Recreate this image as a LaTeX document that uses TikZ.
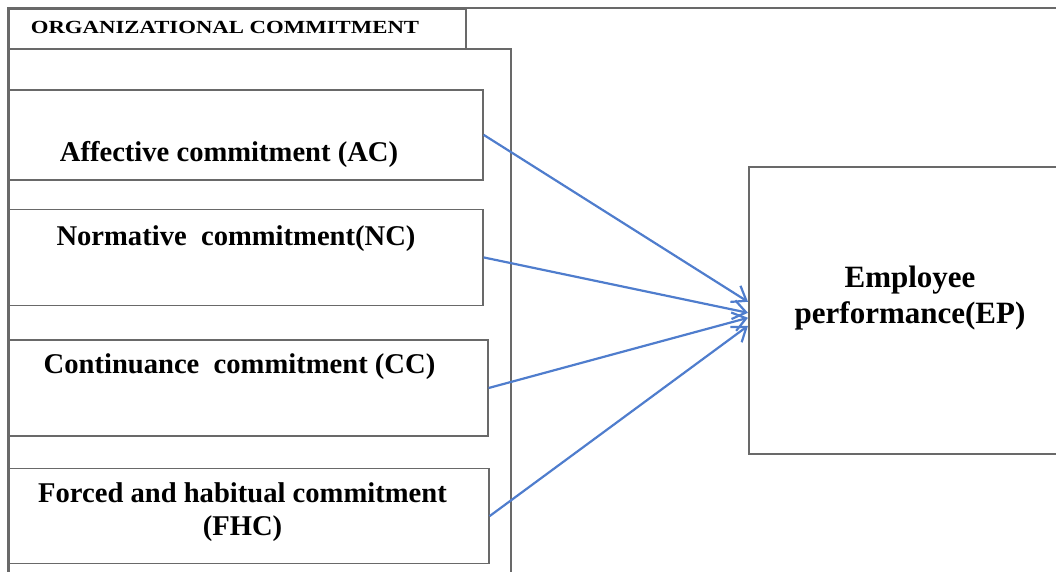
\documentclass[tikz,border=0pt]{standalone}
\usepackage{fontspec}
\setmainfont{Liberation Serif}
\usepackage{graphicx}
\usetikzlibrary{arrows.meta, positioning}
\definecolor{framegray}{RGB}{105,105,105}
\definecolor{arrowblue}{RGB}{79,125,205}
\newcommand{\dimwidth}{474pt}
\newcommand{\dimheight}{96pt}
\tikzstyle{frame} = [% outer frame lines
  draw=framegray,
  line width=1.6pt
  ]
\tikzstyle{dimbox} = [% commitment box
  rectangle,
  draw=framegray,
  line width=1.6pt,
  inner sep=0pt,
  minimum width=\dimwidth,
  minimum height=\dimheight,
  anchor=north west
  ]
\tikzstyle{dimtext} = [% box label
  font=\fontsize{28.6}{33}\selectfont\bfseries,
  align=center,
  inner sep=0pt,
  anchor=base
  ]
\tikzstyle{link} = [% arrow format
  arrowblue,
  line width=2.2pt,
  -{Straight Barb[length=13pt,width=19pt]}
  ]

\begin{document}
\begin{tikzpicture}[x=1pt, y=-1pt]
\clip (0,0) rectangle (1056,571);

%%% Frame
\draw[frame] (8,8) rectangle (1120,640);
\node[dimbox, minimum width=457pt, minimum height=40pt] (title) at (8,8) {};
\node[dimbox, minimum width=502pt, minimum height=600pt] (group) at (8,48) {};
\node[dimtext, font=\fontsize{18.5}{20}\selectfont\bfseries] (titletext) at (225,33.5)
  {\scalebox{1.23}[1]{ORGANIZATIONAL COMMITMENT}};

%%% Nodes
\node[dimbox, minimum height=90pt] (ac) at (8,89) {};
\node[dimbox, below=28pt of ac.south west, anchor=north west] (nc) {};
\node[dimbox, minimum width=479pt, below=33pt of nc.south west, anchor=north west] (cc) {};
\node[dimbox, minimum width=480pt, minimum height=95pt, below=31pt of cc.south west, anchor=north west] (fhc) {};
\node[dimbox, minimum width=314pt, minimum height=287pt] (ep) at (748,166) {};

\node[dimtext] (actext) at (229,161) {Affective commitment (AC)};
\node[dimtext] (nctext) at (236,245) {Normative\ \ commitment(NC)};
\node[dimtext] (cctext) at (239.5,373.5) {Continuance\ \ commitment (CC)};
\node[dimtext] (fhctext) at (242.5,535) {Forced and habitual commitment\\(FHC)};
\node[dimtext, font=\fontsize{31}{36}\selectfont\bfseries] (eptext) at (910,323)
  {Employee\\performance(EP)};

%%% Arrows
\draw[link] (ac.east) -- ([yshift=8.5pt]ep.west);
\draw[link] (nc.east) -- ([yshift=-2.5pt]ep.west);
\draw[link] (cc.east) -- ([yshift=-7.5pt]ep.west);
\draw[link] (fhc.east) -- ([yshift=-15.5pt]ep.west);

\end{tikzpicture}
\end{document}
